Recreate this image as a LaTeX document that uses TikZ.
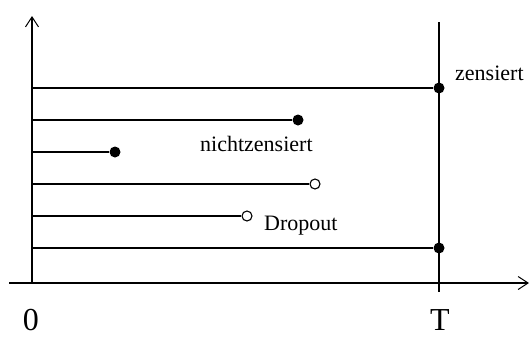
\documentclass[tikz,border=0pt]{standalone}
\usepackage{fontspec}
\setmainfont{Liberation Serif}
\usetikzlibrary{arrows.meta}
\begin{document}
\begin{tikzpicture}[x=1pt,y=-1pt,
  axis/.style={line width=1.3pt,-{Straight Barb[length=10pt,width=13pt,line width=1pt]}},
  life/.style={line width=1.6pt},
  full/.style={circle,fill=black,inner sep=0pt,minimum size=11pt},
  open/.style={circle,draw=black,fill=white,line width=1.1pt,inner sep=0pt,minimum size=10pt},
  lbl/.style={inner sep=0pt,anchor=base west,font=\fontsize{22}{24}\selectfont},
  big/.style={inner sep=0pt,anchor=base,font=\fontsize{32}{35}\selectfont}]
\useasboundingbox (0,0) rectangle (530,338);
% axes
\coordinate (ystart) at (32,283);
\coordinate (yend) at (32,16);
\coordinate (xstart) at (9,283);
\coordinate (xend) at (529,283);
\draw[axis] (ystart) -- (yend);
\draw[axis] (xstart) -- (xend);
% T line
\coordinate (ttop) at (439,22);
\coordinate (tbot) at (439,292);
\draw[line width=1.6pt] (ttop) -- (tbot);
% lifelines
\coordinate (s1) at (32,88);
\coordinate (s2) at (32,120);
\coordinate (s3) at (32,152);
\coordinate (s4) at (32,184);
\coordinate (s5) at (32,216);
\coordinate (s6) at (32,248);
\node[full] (e1) at (439,88) {};
\node[full] (e2) at (298,120) {};
\node[full] (e3) at (115,152) {};
\node[open] (e4) at (315,184) {};
\node[open] (e5) at (247,216) {};
\node[full] (e6) at (439,248) {};
\draw[life] (s1) -- (e1);
\draw[life] (s2) -- (e2);
\draw[life] (s3) -- (e3);
\draw[life] (s4) -- (e4);
\draw[life] (s5) -- (e5);
\draw[life] (s6) -- (e6);
% labels
\node[lbl] (zen) at (455,80) {zensiert};
\node[lbl] (nicht) at (200,151) {nichtzensiert};
\node[lbl] (drop) at (264,230) {Dropout};
\node[big] (zero) at (31,330) {0};
\node[big] (T) at (440,330) {T};
\end{tikzpicture}
\end{document}
